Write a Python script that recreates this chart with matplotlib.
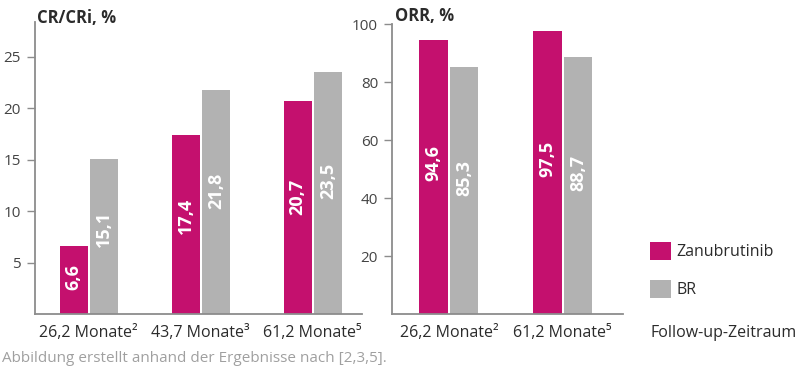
import numpy as np
import matplotlib.pyplot as plt
from matplotlib.patches import Patch

plt.rcParams['font.family'] = ['Open Sans', 'DejaVu Sans']

# Data
cr_labels = ['26,2 Monate²', '43,7 Monate³', '61,2 Monate⁵']
cr_zanu = [6.6, 17.4, 20.7]
cr_br = [15.1, 21.8, 23.5]

orr_labels = ['26,2 Monate²', '61,2 Monate⁵']
orr_zanu = [94.6, 97.5]
orr_br = [85.3, 88.7]

magenta = '#C4106E'
grey = '#B2B2B2'
axis_grey = '#8C8C8C'
text_col = '#2B2B2B'

fig = plt.figure(figsize=(8, 3.7), dpi=100)
ax1 = fig.add_axes([35/800, 1 - 314/370, 327/800, 292/370])
ax2 = fig.add_axes([392/800, 1 - 314/370, 231/800, 290/370])


def draw(ax, labels, zanu, br, ymax, yticks, xlim):
    x = np.arange(len(labels))
    w = 0.25
    off = 0.135
    ax.bar(x - off, zanu, w, color=magenta)
    ax.bar(x + off, br, w, color=grey)
    for xi, v in zip(x, zanu):
        ax.text(xi - off, v * 0.55, f'{v:.1f}'.replace('.', ','), rotation=90,
                ha='center', va='center', color='white', fontsize=13, fontweight='bold')
    for xi, v in zip(x, br):
        ax.text(xi + off, v * 0.55, f'{v:.1f}'.replace('.', ','), rotation=90,
                ha='center', va='center', color='white', fontsize=13, fontweight='bold')
    ax.set_xlim(*xlim)
    ax.set_ylim(0, ymax)
    ax.set_yticks(yticks)
    ax.set_xticks(x)
    ax.set_xticklabels(labels, fontsize=11.5, color=text_col)
    ax.tick_params(axis='x', length=0, pad=8)
    ax.tick_params(axis='y', length=6, width=1, color=axis_grey, labelsize=11,
                   labelcolor='#444444', pad=4)
    for s in ['top', 'right']:
        ax.spines[s].set_visible(False)
    for s in ['left', 'bottom']:
        ax.spines[s].set_color(axis_grey)
        ax.spines[s].set_linewidth(1.3)


draw(ax1, cr_labels, cr_zanu, cr_br, 28.4, [5, 10, 15, 20, 25], (-0.48, 2.44))
draw(ax2, orr_labels, orr_zanu, orr_br, 100, [20, 40, 60, 80, 100], (-0.5, 1.53))

fig.text(37/800, 1 - 18/370, 'CR/CRi, %', fontsize=12, fontweight='bold',
         color=text_col, ha='left', va='center')
fig.text(395/800, 1 - 16/370, 'ORR, %', fontsize=12, fontweight='bold',
         color=text_col, ha='left', va='center')
fig.text(651/800, 1 - 333/370, 'Follow-up-Zeitraum', fontsize=11.5,
         color=text_col, ha='left', va='center')
fig.text(2/800, 1 - 358/370, 'Abbildung erstellt anhand der Ergebnisse nach [2,3,5].',
         fontsize=11, color='#A0A0A0', ha='left', va='center')

handles = [Patch(facecolor=magenta, label='Zanubrutinib'),
           Patch(facecolor=grey, label='BR')]
fig.legend(handles=handles, loc='upper left', bbox_to_anchor=(636/800, 1 - 228/370),
           frameon=False, fontsize=11.5, handlelength=1.3, handleheight=1.3,
           labelspacing=1.25, handletextpad=0.35, labelcolor=text_col)

fig.savefig('out.png', dpi=100)
